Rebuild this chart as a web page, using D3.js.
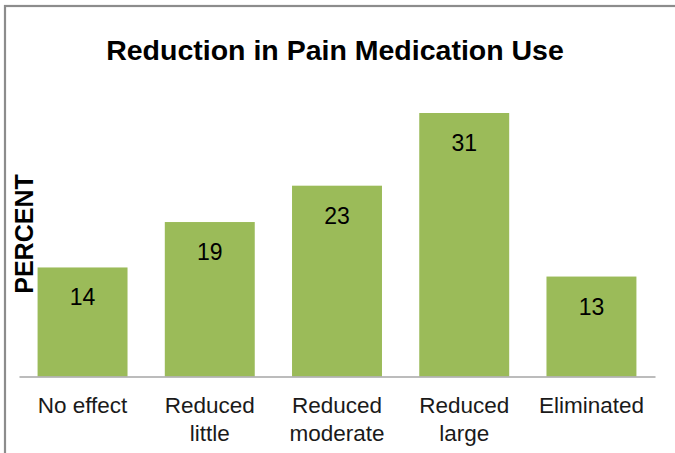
<!DOCTYPE html>
<html>
<head>
<meta charset="utf-8">
<script src="https://cdn.jsdelivr.net/npm/d3@7"></script>
<style>
  html, body { margin: 0; padding: 0; background: #fff; }
  svg { display: block; font-family: "Liberation Sans", Arial, sans-serif; }
</style>
</head>
<body>
<svg id="chart" width="675" height="453"></svg>
<script>
const categories = ["No effect", "Reduced little", "Reduced moderate", "Reduced large", "Eliminated"];
const categoryLines = [["No effect"], ["Reduced", "little"], ["Reduced", "moderate"], ["Reduced", "large"], ["Eliminated"]];
const values = [14, 19, 23, 31, 13];
const title = "Reduction in Pain Medication Use";
const yLabel = "PERCENT";

const svg = d3.select("#chart");
const W = 675, H = 453;
const plot = { left: 19, right: 655, top: 113, bottom: 376.5 };

// frame
svg.append("rect")
  .attr("x", 5).attr("y", 6)
  .attr("width", W + 20).attr("height", H + 20)
  .attr("fill", "#fff").attr("stroke", "#8c8c8c").attr("stroke-width", 2.2);

const x = d3.scaleBand()
  .domain(categories)
  .range([plot.left, plot.right])
  .paddingInner(0.293)
  .paddingOuter(0.146);

const y = d3.scaleLinear()
  .domain([2, 31])
  .range([plot.bottom, plot.top]);

// bars
svg.append("g").selectAll("rect")
  .data(values)
  .join("rect")
  .attr("x", (d, i) => x(categories[i]))
  .attr("y", d => y(d))
  .attr("width", x.bandwidth())
  .attr("height", d => plot.bottom - y(d))
  .attr("fill", "#9BBB59");

// value labels
svg.append("g").selectAll("text")
  .data(values)
  .join("text")
  .attr("x", (d, i) => x(categories[i]) + x.bandwidth() / 2)
  .attr("y", d => y(d) + 38)
  .attr("text-anchor", "middle")
  .attr("font-size", 23)
  .attr("fill", "#000")
  .text(d => d);

// x axis
const xAxis = d3.axisBottom(x).tickSize(0).tickFormat("");
const gx = svg.append("g")
  .attr("transform", `translate(0,${plot.bottom})`)
  .call(xAxis);
gx.select(".domain").attr("stroke", "#a6a6a6").attr("stroke-width", 1.5);

// category labels
const catG = svg.append("g");
categories.forEach((c, i) => {
  const t = catG.append("text")
    .attr("x", x(c) + x.bandwidth() / 2)
    .attr("y", 413)
    .attr("text-anchor", "middle")
    .attr("font-size", 22.5)
    .attr("fill", "#1a1a1a");
  categoryLines[i].forEach((line, j) => {
    t.append("tspan")
      .attr("x", x(c) + x.bandwidth() / 2)
      .attr("dy", j === 0 ? 0 : 27.5)
      .text(line);
  });
});

// title
svg.append("text")
  .attr("x", 335).attr("y", 60)
  .attr("text-anchor", "middle")
  .attr("font-size", 28.5)
  .attr("font-weight", "bold")
  .attr("fill", "#000")
  .text(title);

// y label
svg.append("text")
  .attr("transform", "translate(33,234) rotate(-90)")
  .attr("text-anchor", "middle")
  .attr("font-size", 25)
  .attr("font-weight", "bold")
  .attr("fill", "#000")
  .text(yLabel);
</script>
</body>
</html>
